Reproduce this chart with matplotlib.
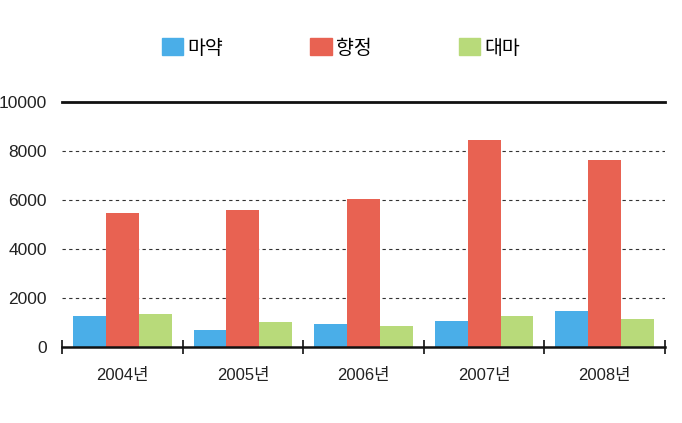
import numpy as np
import matplotlib
matplotlib.use('Agg')
import matplotlib.pyplot as plt
from matplotlib.patches import Patch

plt.rcParams['font.family'] = ['Liberation Sans', 'Noto Sans CJK KR', 'DejaVu Sans']

years = ['2004년', '2005년', '2006년', '2007년', '2008년']
series_names = ['마약', '향정', '대마']
drugs = [1250, 700, 950, 1080, 1480]
psycho = [5450, 5600, 6050, 8450, 7650]
cannabis = [1350, 1030, 850, 1280, 1150]
colors = ['#4aaee8', '#e86252', '#b8da7a']

fig = plt.figure(figsize=(6.82, 4.23), dpi=100)
ax = fig.add_axes([62/682, 1-347/423, (665-62)/682, (347-102)/423])

x = np.arange(len(years))
w = 0.273
for i, vals in enumerate([drugs, psycho, cannabis]):
    ax.bar(x + (i-1)*w, vals, width=w, color=colors[i], zorder=3)

ax.set_xlim(-0.5, len(years)-0.5)
ax.set_ylim(0, 10000)
ax.set_yticks([0, 2000, 4000, 6000, 8000, 10000])
ax.tick_params(axis='y', length=0, pad=11, labelsize=12.5, labelcolor='#222222')

# grid lines
for v in [2000, 4000, 6000, 8000]:
    ax.axhline(v, color='#333333', lw=0.8, ls=(0, (3, 3)), zorder=1)
ax.axhline(10000, color='#111111', lw=2, zorder=2, clip_on=False)

for s in ['top', 'right', 'left']:
    ax.spines[s].set_visible(False)
ax.spines['bottom'].set_linewidth(1.8)
ax.spines['bottom'].set_color('#111111')
ax.spines['bottom'].set_zorder(4)

ax.set_xticks(np.arange(-0.5, len(years)), labels=[''] * (len(years)+1))
ax.tick_params(axis='x', which='major', direction='inout', length=10, width=1.2, color='#111111')
ax.set_xticks(x, minor=True)
ax.set_xticklabels(years, minor=True)
ax.tick_params(axis='x', which='minor', length=0, pad=15, labelsize=12, labelcolor='#222222')

handles = [Patch(color=c) for c in colors]
fig.legend(handles, series_names, loc='center', bbox_to_anchor=(0.5, 1-48/423), ncol=3,
           frameon=False, handlelength=1.1, handleheight=0.95,
           handletextpad=0.2, columnspacing=4.5,
           prop={'family': ['Noto Sans CJK KR'], 'size': 14})

fig.savefig('out.png', dpi=100)
